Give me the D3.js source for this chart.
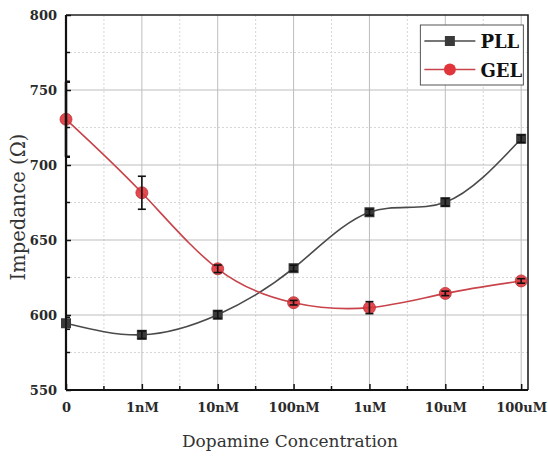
<!DOCTYPE html>
<html>
<head>
<meta charset="utf-8">
<script src="https://cdn.jsdelivr.net/npm/d3@7"></script>
<style>
  body { margin: 0; background: #fff; }
</style>
</head>
<body>
<div id="chart"></div>
<script>
// Data
const concentrations = ["0", "1nM", "10nM", "100nM", "1uM", "10uM", "100uM"];
const pllValues = [594.5, 586.8, 600.2, 631.2, 668.5, 675.2, 717.5];
const pllErrors = [4, 2.5, 2.5, 2, 2, 2.5, 2.5];
const gelValues = [730.5, 681.5, 630.8, 608.2, 604.9, 614.4, 622.7];
const gelErrors = [25, 11, 2.5, 1.5, 4, 1.5, 1.5];
const yTicks = [550, 600, 650, 700, 750, 800];
const yMinorTicks = [575, 625, 675, 725, 775];

const serif = "'DejaVu Serif', 'Noto Serif', serif";

const W = 548, H = 459;
const margin = { top: 15, right: 20, bottom: 69, left: 66 };
const width = W - margin.left - margin.right,
      height = H - margin.top - margin.bottom;

const svg = d3.select("#chart").append("svg")
    .attr("width", W)
    .attr("height", H)
    .attr("font-family", serif);

const g = svg.append("g")
    .attr("transform", `translate(${margin.left}, ${margin.top})`);

// index based x scale, with a little room on the right
const x = d3.scaleLinear().domain([0, 6.09]).range([0, width]);
const y = d3.scaleLinear().domain([550, 800]).range([height, 0]);

const xIdx = concentrations.map((c, i) => i);
const xMinor = d3.range(0.5, 6, 1);

// grid: minor dashed, major solid
g.append("g").selectAll("line.ymin").data(yMinorTicks).enter().append("line")
    .attr("x1", 0).attr("x2", width)
    .attr("y1", d => y(d)).attr("y2", d => y(d))
    .attr("stroke", "#d6d6d6").attr("stroke-dasharray", "2,2");
g.append("g").selectAll("line.xmin").data(xMinor).enter().append("line")
    .attr("x1", d => x(d)).attr("x2", d => x(d))
    .attr("y1", 0).attr("y2", height)
    .attr("stroke", "#d6d6d6").attr("stroke-dasharray", "2,2");
g.append("g").selectAll("line.ymaj").data(yTicks.slice(1, -1)).enter().append("line")
    .attr("x1", 0).attr("x2", width)
    .attr("y1", d => y(d)).attr("y2", d => y(d))
    .attr("stroke", "#bdbdbd");
g.append("g").selectAll("line.xmaj").data(xIdx.slice(1)).enter().append("line")
    .attr("x1", d => x(d)).attr("x2", d => x(d))
    .attr("y1", 0).attr("y2", height)
    .attr("stroke", "#bdbdbd");

// frame top and right
g.append("path")
    .attr("d", `M0,0H${width}V${height}`)
    .attr("fill", "none").attr("stroke", "#222").attr("stroke-width", 1.6);

// axes
const yAxis = g.append("g")
    .call(d3.axisLeft(y).tickValues(yTicks).tickSize(-5).tickPadding(9));
yAxis.append("g").selectAll("line").data(yMinorTicks).enter().append("line")
    .attr("x1", -1).attr("x2", 4)
    .attr("y1", d => y(d)).attr("y2", d => y(d))
    .attr("stroke", "#111").attr("stroke-width", 1.5);

const xAxis = g.append("g")
    .attr("transform", `translate(0, ${height})`)
    .call(d3.axisBottom(x).tickValues(xIdx).tickFormat(i => concentrations[i])
        .tickSize(-6).tickPadding(13));
xAxis.append("g").selectAll("line").data(xMinor).enter().append("line")
    .attr("x1", d => x(d)).attr("x2", d => x(d))
    .attr("y1", 1).attr("y2", -4)
    .attr("stroke", "#111").attr("stroke-width", 1.5);

[yAxis, xAxis].forEach(a => {
    a.attr("font-family", serif);
    a.select(".domain").attr("stroke", "#111").attr("stroke-width", 2.2);
    a.selectAll(".tick line").attr("stroke", "#111").attr("stroke-width", 1.5);
    a.selectAll("text")
        .attr("font-size", 13).attr("font-weight", "bold").attr("fill", "#2a2a2a");
});
yAxis.select(".domain").attr("d", `M0,${height}V0`);
xAxis.select(".domain").attr("d", `M0,0H${width}`);

// axis titles
svg.append("text")
    .attr("x", margin.left + 224).attr("y", 447)
    .attr("text-anchor", "middle")
    .attr("font-size", 17).attr("fill", "#333")
    .text("Dopamine Concentration");
svg.append("text")
    .attr("transform", "translate(25, 207) rotate(-90)")
    .attr("text-anchor", "middle")
    .attr("font-size", 19.5).attr("fill", "#333")
    .text("Impedance (Ω)");

// series
const series = [
    { name: "PLL", values: pllValues, errors: pllErrors, line: "#4a4a4a", fill: "#3a3a3a", shape: "square" },
    { name: "GEL", values: gelValues, errors: gelErrors, line: "#c8434a", fill: "#e0353b", shape: "circle" }
];

const lineGen = d3.line()
    .x((d, i) => x(i))
    .y(d => y(d))
    .curve(d3.curveNatural);

const plot = g.append("g");

series.forEach(s => {
    plot.append("path")
        .datum(s.values)
        .attr("fill", "none")
        .attr("stroke", s.line)
        .attr("stroke-width", 1.6)
        .attr("d", lineGen);
});

series.forEach(s => {
    const grp = plot.append("g");
    s.values.forEach((v, i) => {
        if (s.shape === "square") {
            grp.append("rect")
                .attr("x", x(i) - 5).attr("y", y(v) - 5)
                .attr("width", 10).attr("height", 10)
                .attr("fill", s.fill);
        } else {
            grp.append("circle")
                .attr("cx", x(i)).attr("cy", y(v)).attr("r", 6)
                .attr("fill", s.fill).attr("fill-opacity", 0.9)
                .attr("stroke", "#b8333a").attr("stroke-width", 0.8);
        }
    });
    // error bars
    s.values.forEach((v, i) => {
        const e = s.errors[i];
        const cx = x(i), y0 = y(v - e), y1 = y(v + e);
        const cap = 4;
        const sw = i === 0 && s.name === "GEL" ? 2.5 : 1.6;
        const eg = grp.append("g").attr("stroke", "#111").attr("stroke-width", sw);
        eg.append("line").attr("x1", cx).attr("x2", cx).attr("y1", y0).attr("y2", y1);
        eg.append("line").attr("x1", Math.max(cx - cap, 0)).attr("x2", cx + cap).attr("y1", y0).attr("y2", y0);
        eg.append("line").attr("x1", Math.max(cx - cap, 0)).attr("x2", cx + cap).attr("y1", y1).attr("y2", y1);
    });
});

// legend
const lg = g.append("g").attr("transform", `translate(${x(4.5) + 13}, 10)`);
lg.append("rect")
    .attr("width", 103).attr("height", 60)
    .attr("fill", "#fff").attr("stroke", "#555").attr("stroke-width", 1);
series.forEach((s, k) => {
    const ly = 16 + k * 28.5;
    lg.append("line")
        .attr("x1", 4).attr("x2", 55).attr("y1", ly).attr("y2", ly)
        .attr("stroke", s.line).attr("stroke-width", 1.6);
    if (s.shape === "square") {
        lg.append("rect").attr("x", 24.5).attr("y", ly - 5).attr("width", 10).attr("height", 10).attr("fill", s.fill);
    } else {
        lg.append("circle").attr("cx", 29.5).attr("cy", ly).attr("r", 6).attr("fill", s.fill);
    }
    lg.append("text")
        .attr("x", 60).attr("y", ly + 7)
        .attr("font-size", 18).attr("font-weight", "bold").attr("fill", "#111")
        .text(s.name);
});
</script>
</body>
</html>
